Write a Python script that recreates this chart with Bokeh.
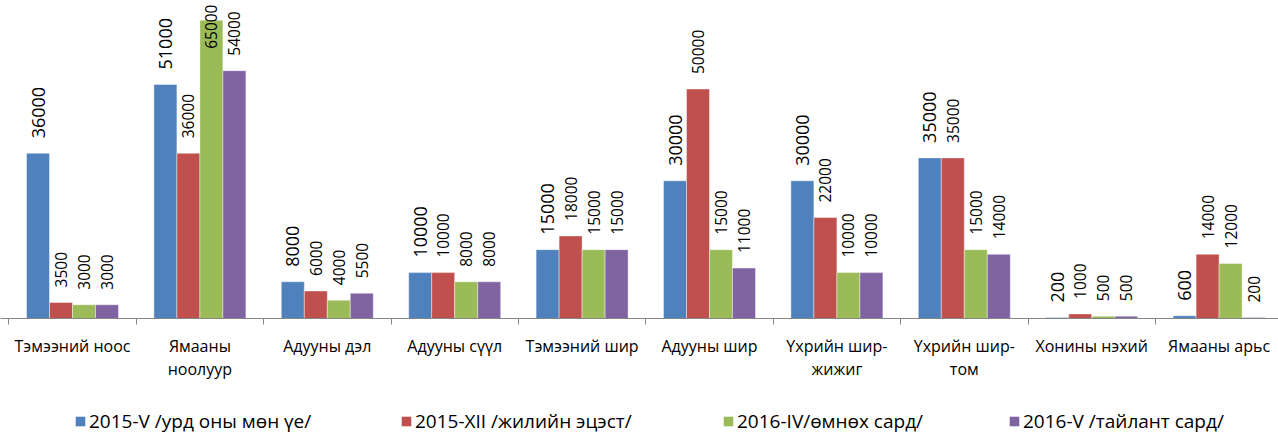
import math
from bokeh.plotting import figure
from bokeh.layouts import column
from bokeh.models import Range1d, FixedTicker, Legend, LegendItem, ColumnDataSource
from bokeh.core.properties import value
from bokeh.embed import file_html
from bokeh.resources import INLINE

categories = ["Тэмээний ноос", "Ямааны ноолуур", "Адууны дэл", "Адууны сүүл", "Тэмээний шир",
              "Адууны шир", "Үхрийн шир-жижиг", "Үхрийн шир-том", "Хонины нэхий", "Ямааны арьс"]
tick_labels = ["Тэмээний ноос", "Ямааны\nноолуур", "Адууны дэл", "Адууны сүүл", "Тэмээний шир",
               "Адууны шир", "Үхрийн шир-\nжижиг", "Үхрийн шир-\nтом", "Хонины нэхий", "Ямааны арьс"]
series_names = ["2015-V /урд оны мөн үе/", "2015-XII /жилийн эцэст/", "2016-IV/өмнөх сард/", "2016-V /тайлант сард/"]
s2015_v = [36000, 51000, 8000, 10000, 15000, 30000, 30000, 35000, 200, 600]
s2015_xii = [3500, 36000, 6000, 10000, 18000, 50000, 22000, 35000, 1000, 14000]
s2016_iv = [3000, 65000, 4000, 8000, 15000, 15000, 10000, 15000, 500, 12000]
s2016_v = [3000, 54000, 5500, 8000, 15000, 11000, 10000, 14000, 500, 200]
series = [s2015_v, s2015_xii, s2016_iv, s2016_v]
colors = ["#4F81BD", "#C0504D", "#9BBB59", "#8064A2"]
label_sizes = [18, 15.5, 15.5, 15.5]

FONT = "Open Sans"
W = 1278
H_MAIN = 400
FRAME_H = 318
BOTTOM = H_MAIN - FRAME_H
PX_PER_UNIT = 0.004589
YMAX = FRAME_H / PX_PER_UNIT
CAT_PX = 127.4
X0 = 8.3

p = figure(width=W, height=H_MAIN, output_backend="svg", toolbar_location=None, title=None,
           x_range=Range1d(-X0 / CAT_PX, (W - X0) / CAT_PX), y_range=Range1d(0, YMAX),
           y_axis_location=None, min_border_left=0, min_border_right=0,
           min_border_top=0, min_border_bottom=BOTTOM)
p.outline_line_color = None
p.grid.visible = False

# legend strip
H_LEG = 436 - H_MAIN
lg = figure(width=W, height=H_LEG, output_backend="svg", toolbar_location=None, title=None,
            x_range=Range1d(0, 1), y_range=Range1d(0, 1),
            x_axis_location=None, y_axis_location=None,
            min_border_left=0, min_border_right=0, min_border_top=0, min_border_bottom=0)
lg.outline_line_color = None
lg.grid.visible = False

n = len(categories)
bw = 0.1805
leg_x = [74, 400, 722, 1008]
for k, (vals, col) in enumerate(zip(series, colors)):
    xs = [i + 0.5 + (k - 1.5) * bw for i in range(n)]
    src = ColumnDataSource(dict(x=xs, top=vals))
    p.vbar(x="x", top="top", width=bw, bottom=0, source=src, fill_color=col,
           line_color="white", line_width=0.6, line_alpha=0.7)
    fs = label_sizes[k]
    ys = []
    for v in vals:
        txt_len = len(str(v)) * 0.572 * fs + 4
        ys.append(min(v * PX_PER_UNIT + 15, FRAME_H - txt_len) / PX_PER_UNIT)
    lsrc = ColumnDataSource(dict(x=xs, y=ys, t=[str(v) for v in vals]))
    p.text(x="x", y="y", text="t", source=lsrc, angle=math.pi / 2, text_align="left",
           text_baseline="middle", text_font=value(FONT), text_font_size=f"{fs}px",
           text_color="#000000")
    # hidden renderer in the legend strip, sharing the series data, only for the legend swatch
    r = lg.rect(x="x", y="top", width=bw, height="top", source=src, fill_color=col,
                line_color=None, visible=False)
    leg = Legend(items=[LegendItem(label=series_names[k], renderers=[r])], location=(leg_x[k], 2),
                 orientation="horizontal", glyph_width=12, glyph_height=12, label_standoff=3,
                 padding=0, margin=0, border_line_color=None, background_fill_alpha=0,
                 label_text_font=FONT, label_text_font_size="19px", label_text_color="#000000")
    lg.add_layout(leg)

ax = p.xaxis[0]
ax.ticker = FixedTicker(ticks=[i + 0.5 for i in range(n)], minor_ticks=list(range(n + 1)))
ax.major_label_overrides = {i + 0.5: tick_labels[i] for i in range(n)}
ax.major_tick_line_color = None
ax.minor_tick_line_color = "#868686"
ax.minor_tick_in = 0
ax.minor_tick_out = 6
ax.axis_line_color = "#868686"
ax.axis_line_width = 1.2
ax.major_label_text_font = FONT
ax.major_label_text_font_size = "16px"
ax.major_label_text_color = "#000000"
ax.major_label_text_line_height = 1.05
ax.major_label_standoff = 10

layout = column(p, lg, spacing=0)
open("out.html", "w").write(file_html(layout, INLINE))
